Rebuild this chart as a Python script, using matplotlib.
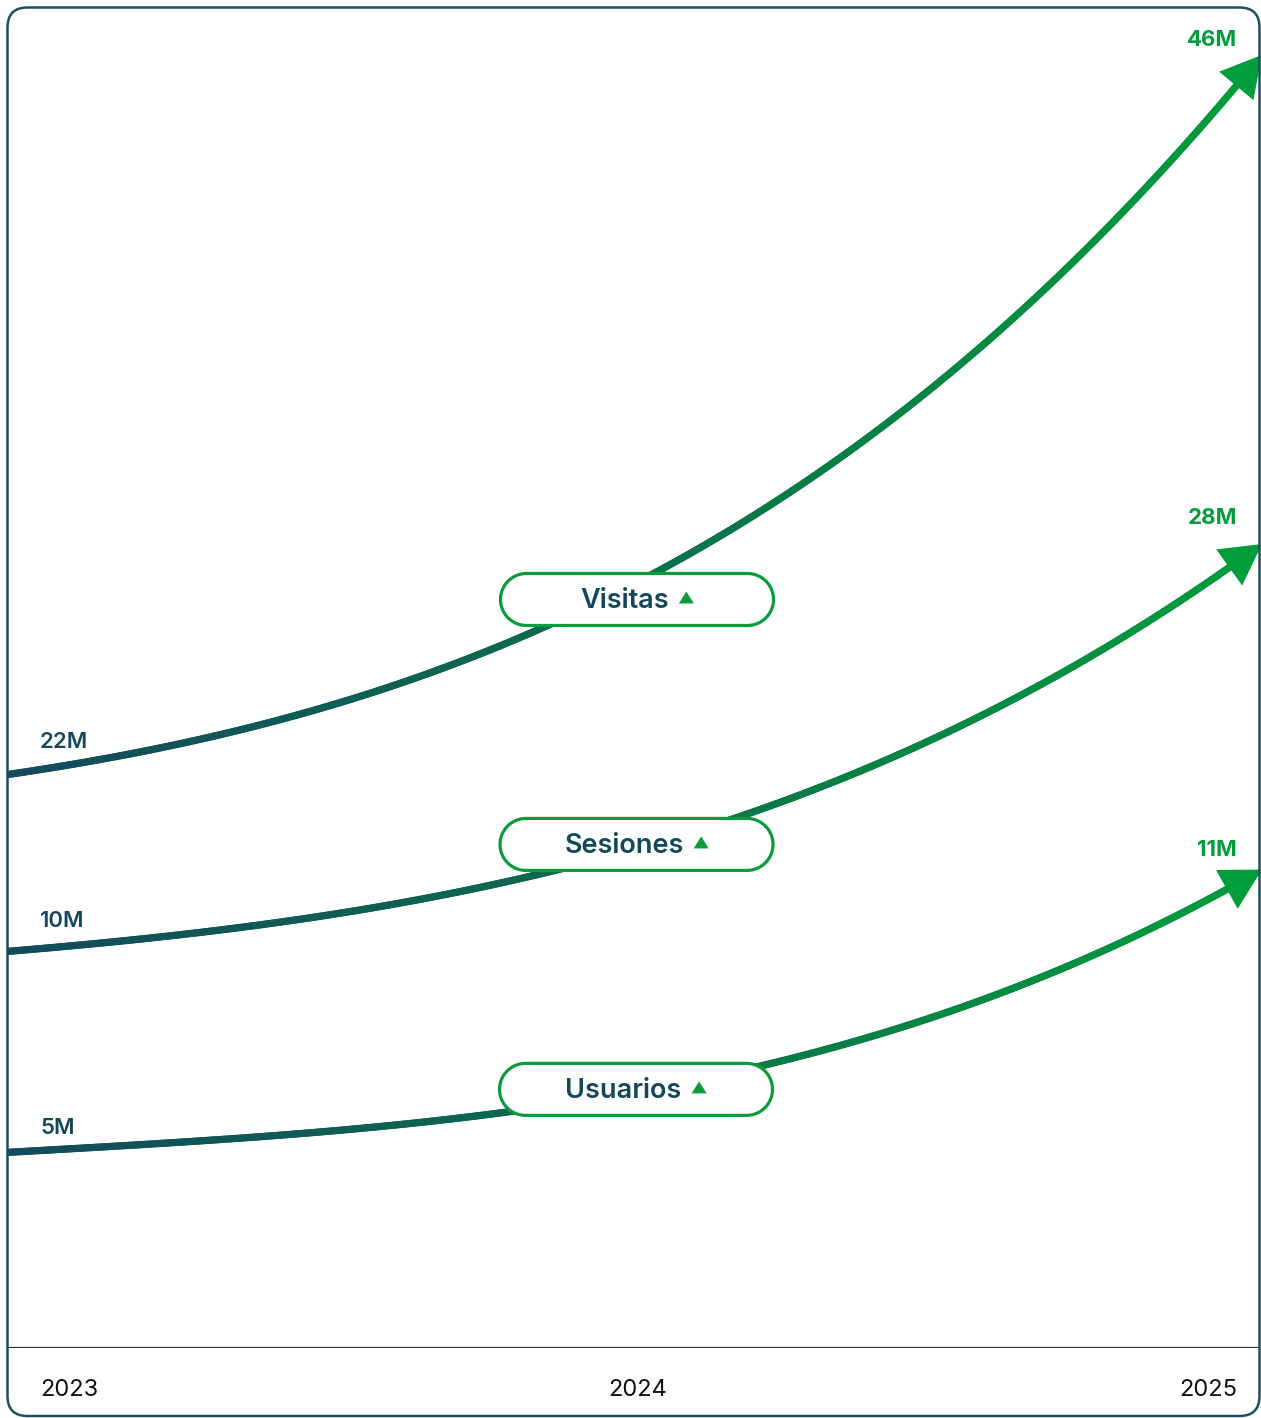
import numpy as np
import matplotlib
matplotlib.use('Agg')
import matplotlib.pyplot as plt
import matplotlib.transforms as mtransforms
from matplotlib.patches import FancyBboxPatch, Polygon
from matplotlib.collections import LineCollection
from matplotlib.colors import LinearSegmentedColormap
from matplotlib.bezier import BezierSegment

plt.rcParams['font.family'] = ['Inter', 'DejaVu Sans']

series = ['Visitas', 'Sesiones', 'Usuarios']
start_labels = ['22M', '10M', '5M']
end_labels = ['46M', '28M', '11M']
# visual level of each curve (0 = baseline, 100 = top of panel)
start_level = [42.8, 29.6, 14.6]
end_level = [96.5, 60.0, 35.7]
years = [2023, 2024, 2025]

W, H, DPI = 1261, 1418, 100
PX = 72 / DPI  # pixels -> points
TEAL = '#134a5c'
TEXT_TEAL = '#13485a'
GREEN = '#009d3b'
PILL_GREEN = '#0b9b3c'
BORDER = '#1b5060'

cmap = LinearSegmentedColormap.from_list('tg', [TEAL, '#0b6f4c', GREEN])

fig = plt.figure(figsize=(W / DPI, H / DPI), dpi=DPI)
ax = fig.add_axes([8 / W, 70 / H, 1254 / W, 1340 / H])
ax.set_xlim(2023, 2025)
ax.set_ylim(0, 100)
ax.axis('off')

# rounded panel (also used as clip region)
panel = FancyBboxPatch((7.5, 2), 1252, 1408.5,
                       boxstyle='round,pad=0,rounding_size=20',
                       transform=mtransforms.IdentityTransform(),
                       facecolor='none', edgecolor=BORDER, lw=1.8, zorder=10)
fig.add_artist(panel)

base = ax.axhline(0, color='#333333', lw=1.6, zorder=1)
base.set_clip_path(panel)


def capsule(cx, cy, w, h, n=40):
    r = h / 2
    a = np.linspace(-np.pi / 2, np.pi / 2, n)
    right = np.column_stack([cx + w / 2 - r + r * np.cos(a), cy + r * np.sin(a)])
    left = np.column_stack([cx - w / 2 + r - r * np.cos(a), cy - r * np.sin(a)])
    return np.vstack([right, left])


# curve shape: normalised bezier controls, second control height per curve
bend = [0.29, 0.25, 0.15]
t = np.linspace(0, 1, 500)
renderer = fig.canvas.get_renderer()
start_dy = [26, 24, 18]
end_dy = [9, 20, 14]

for i, (name, s_lbl, e_lbl, y0, y1) in enumerate(
        zip(series, start_labels, end_labels, start_level, end_level)):
    pts = np.array([[0, 0], [1 / 3, 0.085], [2 / 3, bend[i]], [1, 1]])
    pts[:, 0] = years[0] + pts[:, 0] * (years[-1] - years[0])
    pts[:, 1] = y0 + pts[:, 1] * (y1 - y0)
    curve = BezierSegment(pts)(t)

    pix = ax.transData.transform(curve)
    dist = np.hypot(*(pix - pix[-1]).T)
    keep = curve[dist > 26]
    segs = np.stack([keep[:-1], keep[1:]], axis=1)
    xs = (keep[:-1, 0] - years[0]) / (years[-1] - years[0])
    lc = LineCollection(segs, colors=cmap(xs), linewidths=5.2,
                        capstyle='round', zorder=2)
    lc.set_clip_path(panel)
    ax.add_collection(lc)

    idx = np.argmin(np.abs(dist - 40))
    ann = ax.annotate('', xy=curve[-1], xytext=curve[idx],
                      arrowprops=dict(arrowstyle='-|>,head_length=2.9,head_width=1.6',
                                      mutation_scale=10, color=GREEN, lw=0,
                                      shrinkA=0, shrinkB=0), zorder=3)
    ann.arrow_patch.set_clip_path(panel)

    ax.annotate(s_lbl, xy=(years[0], y0), xytext=(32 * PX, start_dy[i] * PX),
                textcoords='offset points', ha='left', va='baseline',
                fontsize=16, fontweight='semibold', color=TEXT_TEAL)
    ax.annotate(e_lbl, xy=(years[-1], y1), xytext=(-25 * PX, end_dy[i] * PX),
                textcoords='offset points', ha='right', va='baseline',
                fontsize=16, fontweight='bold', color=GREEN)

    # pill label, stacked at even spacing around 2024
    cx, cy = ax.transData.transform((years[1], 55.86 - 18.28 * i))
    cx += 2 - i * 0.5
    pill = Polygon(capsule(cx, cy, 273, 52), closed=True,
                   transform=mtransforms.IdentityTransform(),
                   facecolor='white', edgecolor=PILL_GREEN, lw=2.3, zorder=5)
    ax.add_artist(pill)
    txt = ax.text(0, 0, name, fontsize=19.5, fontweight='semibold',
                  color=TEXT_TEAL, ha='left', va='baseline',
                  transform=mtransforms.IdentityTransform(), zorder=6)
    tw = txt.get_window_extent(renderer).width
    gap, tri = 10, 15
    x0 = cx - (tw + gap + tri) / 2
    txt.set_position((x0, cy - 9))
    tx = x0 + tw + gap
    ax.add_artist(Polygon([[tx, cy - 4], [tx + tri, cy - 4], [tx + tri / 2, cy + 8]],
                          closed=True, facecolor=PILL_GREEN, edgecolor='none',
                          transform=mtransforms.IdentityTransform(), zorder=6))

year_pos = {2023: (32, 'left'), 2024: (3, 'center'), 2025: (-25, 'right')}
for yr in years:
    dx, ha = year_pos[yr]
    ax.annotate(str(yr), xy=(yr, 0), xytext=(dx * PX, -47.5 * PX),
                textcoords='offset points', ha=ha, va='baseline',
                fontsize=17, color='#111111')

fig.savefig('out.png', dpi=DPI, facecolor='white')
